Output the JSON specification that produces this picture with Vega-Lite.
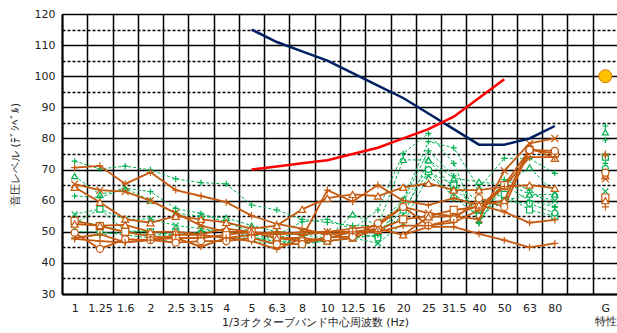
{
"$schema": "https://vega.github.io/schema/vega-lite/v6.json",
"width": 556, "height": 280,
"autosize": {"type": "none"},
"padding": {"left": 62, "top": 14, "right": 0, "bottom": 39},
"config": {"view": {"stroke": null}, "font": "DejaVu Sans"},
"datasets": {
"orange": [
{"s":"O1","f":"1","v":70.6},{"s":"O1","f":"1.25","v":71.2},{"s":"O1","f":"1.6","v":65.4},{"s":"O1","f":"2","v":69.1},{"s":"O1","f":"2.5","v":63.4},{"s":"O1","f":"3.15","v":61.5},{"s":"O1","f":"4","v":59.5},{"s":"O1","f":"5","v":55.2},{"s":"O1","f":"6.3","v":52.5},{"s":"O1","f":"8","v":51},{"s":"O1","f":"10","v":49},{"s":"O1","f":"12.5","v":50},{"s":"O1","f":"16","v":51},{"s":"O1","f":"20","v":49},{"s":"O1","f":"25","v":51.6},{"s":"O1","f":"31.5","v":51.6},{"s":"O1","f":"40","v":49.3},{"s":"O1","f":"50","v":47.3},{"s":"O1","f":"63","v":45},{"s":"O1","f":"80","v":46.3},{"s":"O1","f":"G","v":58},
{"s":"O2","f":"1","v":64.3},{"s":"O2","f":"1.25","v":59.5},{"s":"O2","f":"1.6","v":54.1},{"s":"O2","f":"2","v":52.9},{"s":"O2","f":"2.5","v":55},{"s":"O2","f":"3.15","v":54},{"s":"O2","f":"4","v":53},{"s":"O2","f":"5","v":51},{"s":"O2","f":"6.3","v":52},{"s":"O2","f":"8","v":57.2},{"s":"O2","f":"10","v":60.8},{"s":"O2","f":"12.5","v":62},{"s":"O2","f":"16","v":61.5},{"s":"O2","f":"20","v":64.3},{"s":"O2","f":"25","v":65.6},{"s":"O2","f":"31.5","v":63.4},{"s":"O2","f":"40","v":63.4},{"s":"O2","f":"50","v":64.5},{"s":"O2","f":"63","v":65},{"s":"O2","f":"80","v":64},{"s":"O2","f":"G","v":68},
{"s":"O3","f":"1","v":48},{"s":"O3","f":"1.25","v":49.2},{"s":"O3","f":"1.6","v":46.6},{"s":"O3","f":"2","v":47.5},{"s":"O3","f":"2.5","v":48},{"s":"O3","f":"3.15","v":45.2},{"s":"O3","f":"4","v":48},{"s":"O3","f":"5","v":47},{"s":"O3","f":"6.3","v":44.4},{"s":"O3","f":"8","v":48},{"s":"O3","f":"10","v":63.4},{"s":"O3","f":"12.5","v":59.7},{"s":"O3","f":"16","v":65},{"s":"O3","f":"20","v":60},{"s":"O3","f":"25","v":58.6},{"s":"O3","f":"31.5","v":60.8},{"s":"O3","f":"40","v":58.6},{"s":"O3","f":"50","v":56.4},{"s":"O3","f":"63","v":52.9},{"s":"O3","f":"80","v":53.8},{"s":"O3","f":"G","v":75},
{"s":"O4","f":"1","v":65.3},{"s":"O4","f":"1.25","v":63.4},{"s":"O4","f":"1.6","v":62.9},{"s":"O4","f":"2","v":60},{"s":"O4","f":"2.5","v":56},{"s":"O4","f":"3.15","v":52},{"s":"O4","f":"4","v":50},{"s":"O4","f":"5","v":50},{"s":"O4","f":"6.3","v":49},{"s":"O4","f":"8","v":50},{"s":"O4","f":"10","v":50},{"s":"O4","f":"12.5","v":51},{"s":"O4","f":"16","v":52},{"s":"O4","f":"20","v":58},{"s":"O4","f":"25","v":56},{"s":"O4","f":"31.5","v":55},{"s":"O4","f":"40","v":54},{"s":"O4","f":"50","v":69.6},{"s":"O4","f":"63","v":78.4},{"s":"O4","f":"80","v":80},{"s":"O4","f":"G","v":67},
{"s":"O5","f":"1","v":53.5},{"s":"O5","f":"1.25","v":51.8},{"s":"O5","f":"1.6","v":50},{"s":"O5","f":"2","v":48.5},{"s":"O5","f":"2.5","v":48},{"s":"O5","f":"3.15","v":48},{"s":"O5","f":"4","v":49},{"s":"O5","f":"5","v":50},{"s":"O5","f":"6.3","v":48},{"s":"O5","f":"8","v":47},{"s":"O5","f":"10","v":48},{"s":"O5","f":"12.5","v":50},{"s":"O5","f":"16","v":50.6},{"s":"O5","f":"20","v":54},{"s":"O5","f":"25","v":55},{"s":"O5","f":"31.5","v":57},{"s":"O5","f":"40","v":58},{"s":"O5","f":"50","v":65},{"s":"O5","f":"63","v":76.3},{"s":"O5","f":"80","v":75.2},{"s":"O5","f":"G","v":61},
{"s":"O6","f":"1","v":52.5},{"s":"O6","f":"1.25","v":52},{"s":"O6","f":"1.6","v":52.2},{"s":"O6","f":"2","v":50},{"s":"O6","f":"2.5","v":50},{"s":"O6","f":"3.15","v":49.2},{"s":"O6","f":"4","v":51},{"s":"O6","f":"5","v":50},{"s":"O6","f":"6.3","v":48},{"s":"O6","f":"8","v":48},{"s":"O6","f":"10","v":47},{"s":"O6","f":"12.5","v":48},{"s":"O6","f":"16","v":51},{"s":"O6","f":"20","v":49},{"s":"O6","f":"25","v":54.8},{"s":"O6","f":"31.5","v":55},{"s":"O6","f":"40","v":58.6},{"s":"O6","f":"50","v":60},{"s":"O6","f":"63","v":77},{"s":"O6","f":"80","v":73.6},{"s":"O6","f":"G","v":60},
{"s":"O7","f":"1","v":49.7},{"s":"O7","f":"1.25","v":44.5},{"s":"O7","f":"1.6","v":47.6},{"s":"O7","f":"2","v":47.3},{"s":"O7","f":"2.5","v":46.5},{"s":"O7","f":"3.15","v":47},{"s":"O7","f":"4","v":47},{"s":"O7","f":"5","v":48},{"s":"O7","f":"6.3","v":46},{"s":"O7","f":"8","v":46},{"s":"O7","f":"10","v":48.2},{"s":"O7","f":"12.5","v":48.4},{"s":"O7","f":"16","v":52.8},{"s":"O7","f":"20","v":58},{"s":"O7","f":"25","v":52},{"s":"O7","f":"31.5","v":54},{"s":"O7","f":"40","v":60.8},{"s":"O7","f":"50","v":58},{"s":"O7","f":"63","v":76.3},{"s":"O7","f":"80","v":76},{"s":"O7","f":"G","v":69},
{"s":"O8","f":"1","v":47.7},{"s":"O8","f":"1.25","v":47},{"s":"O8","f":"1.6","v":46.6},{"s":"O8","f":"2","v":47.3},{"s":"O8","f":"2.5","v":49},{"s":"O8","f":"3.15","v":49},{"s":"O8","f":"4","v":48},{"s":"O8","f":"5","v":49},{"s":"O8","f":"6.3","v":50},{"s":"O8","f":"8","v":49},{"s":"O8","f":"10","v":50},{"s":"O8","f":"12.5","v":50},{"s":"O8","f":"16","v":50},{"s":"O8","f":"20","v":52},{"s":"O8","f":"25","v":52},{"s":"O8","f":"31.5","v":53},{"s":"O8","f":"40","v":57},{"s":"O8","f":"50","v":64.5},{"s":"O8","f":"63","v":74},{"s":"O8","f":"80","v":74},{"s":"O8","f":"G","v":74.5}
],
"green": [
{"s":"G1","f":"1","v":72.7},{"s":"G1","f":"1.25","v":70.2},{"s":"G1","f":"1.6","v":71.1},{"s":"G1","f":"2","v":69.9},{"s":"G1","f":"2.5","v":67},{"s":"G1","f":"3.15","v":65.8},{"s":"G1","f":"4","v":65.4},{"s":"G1","f":"5","v":58.6},{"s":"G1","f":"6.3","v":57},{"s":"G1","f":"8","v":54},{"s":"G1","f":"10","v":53},{"s":"G1","f":"12.5","v":52},{"s":"G1","f":"16","v":52},{"s":"G1","f":"20","v":60.4},{"s":"G1","f":"25","v":79},{"s":"G1","f":"31.5","v":77},{"s":"G1","f":"40","v":64},{"s":"G1","f":"50","v":73.6},{"s":"G1","f":"63","v":73.6},{"s":"G1","f":"80","v":68.8},{"s":"G1","f":"G","v":84},
{"s":"G2","f":"1","v":67.9},{"s":"G2","f":"1.25","v":62},{"s":"G2","f":"1.6","v":64},{"s":"G2","f":"2","v":60},{"s":"G2","f":"2.5","v":56},{"s":"G2","f":"3.15","v":55},{"s":"G2","f":"4","v":54.5},{"s":"G2","f":"5","v":52},{"s":"G2","f":"6.3","v":50},{"s":"G2","f":"8","v":49},{"s":"G2","f":"10","v":48},{"s":"G2","f":"12.5","v":55.6},{"s":"G2","f":"16","v":52},{"s":"G2","f":"20","v":73.1},{"s":"G2","f":"25","v":73.1},{"s":"G2","f":"31.5","v":67.2},{"s":"G2","f":"40","v":66.1},{"s":"G2","f":"50","v":65},{"s":"G2","f":"63","v":70.7},{"s":"G2","f":"80","v":62.4},{"s":"G2","f":"G","v":82},
{"s":"G3","f":"1","v":61.5},{"s":"G3","f":"1.25","v":61},{"s":"G3","f":"1.6","v":64},{"s":"G3","f":"2","v":62.9},{"s":"G3","f":"2.5","v":57.5},{"s":"G3","f":"3.15","v":55.9},{"s":"G3","f":"4","v":53},{"s":"G3","f":"5","v":50},{"s":"G3","f":"6.3","v":49},{"s":"G3","f":"8","v":53.2},{"s":"G3","f":"10","v":54},{"s":"G3","f":"12.5","v":50.8},{"s":"G3","f":"16","v":57},{"s":"G3","f":"20","v":75.2},{"s":"G3","f":"25","v":81.6},{"s":"G3","f":"31.5","v":72},{"s":"G3","f":"40","v":52.7},{"s":"G3","f":"50","v":66.8},{"s":"G3","f":"63","v":63.4},{"s":"G3","f":"80","v":57.9},{"s":"G3","f":"G","v":72},
{"s":"G4","f":"1","v":55.6},{"s":"G4","f":"1.25","v":57.3},{"s":"G4","f":"1.6","v":54},{"s":"G4","f":"2","v":54.1},{"s":"G4","f":"2.5","v":52},{"s":"G4","f":"3.15","v":51},{"s":"G4","f":"4","v":50},{"s":"G4","f":"5","v":49},{"s":"G4","f":"6.3","v":48},{"s":"G4","f":"8","v":47},{"s":"G4","f":"10","v":46.8},{"s":"G4","f":"12.5","v":48},{"s":"G4","f":"16","v":46.3},{"s":"G4","f":"20","v":52.7},{"s":"G4","f":"25","v":68},{"s":"G4","f":"31.5","v":62},{"s":"G4","f":"40","v":57},{"s":"G4","f":"50","v":60},{"s":"G4","f":"63","v":62},{"s":"G4","f":"80","v":60},{"s":"G4","f":"G","v":63},
{"s":"G5","f":"1","v":52.7},{"s":"G5","f":"1.25","v":57.3},{"s":"G5","f":"1.6","v":50.3},{"s":"G5","f":"2","v":50},{"s":"G5","f":"2.5","v":50},{"s":"G5","f":"3.15","v":49},{"s":"G5","f":"4","v":48},{"s":"G5","f":"5","v":48},{"s":"G5","f":"6.3","v":47},{"s":"G5","f":"8","v":46},{"s":"G5","f":"10","v":47},{"s":"G5","f":"12.5","v":48},{"s":"G5","f":"16","v":49},{"s":"G5","f":"20","v":57},{"s":"G5","f":"25","v":69.3},{"s":"G5","f":"31.5","v":65},{"s":"G5","f":"40","v":60},{"s":"G5","f":"50","v":62},{"s":"G5","f":"63","v":57},{"s":"G5","f":"80","v":55},{"s":"G5","f":"G","v":74},
{"s":"G6","f":"1","v":53.5},{"s":"G6","f":"1.25","v":52.2},{"s":"G6","f":"1.6","v":50},{"s":"G6","f":"2","v":49},{"s":"G6","f":"2.5","v":49},{"s":"G6","f":"3.15","v":50},{"s":"G6","f":"4","v":51},{"s":"G6","f":"5","v":48},{"s":"G6","f":"6.3","v":48},{"s":"G6","f":"8","v":50},{"s":"G6","f":"10","v":49},{"s":"G6","f":"12.5","v":50},{"s":"G6","f":"16","v":50},{"s":"G6","f":"20","v":55},{"s":"G6","f":"25","v":73},{"s":"G6","f":"31.5","v":64},{"s":"G6","f":"40","v":57},{"s":"G6","f":"50","v":66},{"s":"G6","f":"63","v":62},{"s":"G6","f":"80","v":62},{"s":"G6","f":"G","v":70},
{"s":"G7","f":"1","v":50},{"s":"G7","f":"1.25","v":50},{"s":"G7","f":"1.6","v":49},{"s":"G7","f":"2","v":48},{"s":"G7","f":"2.5","v":46.5},{"s":"G7","f":"3.15","v":47},{"s":"G7","f":"4","v":47},{"s":"G7","f":"5","v":48},{"s":"G7","f":"6.3","v":47},{"s":"G7","f":"8","v":47},{"s":"G7","f":"10","v":48},{"s":"G7","f":"12.5","v":50},{"s":"G7","f":"16","v":48},{"s":"G7","f":"20","v":60},{"s":"G7","f":"25","v":70},{"s":"G7","f":"31.5","v":61},{"s":"G7","f":"40","v":55},{"s":"G7","f":"50","v":60},{"s":"G7","f":"63","v":59.1},{"s":"G7","f":"80","v":56},{"s":"G7","f":"G","v":70.4},
{"s":"G8","f":"1","v":48},{"s":"G8","f":"1.25","v":49},{"s":"G8","f":"1.6","v":50},{"s":"G8","f":"2","v":50},{"s":"G8","f":"2.5","v":49},{"s":"G8","f":"3.15","v":49},{"s":"G8","f":"4","v":48},{"s":"G8","f":"5","v":47},{"s":"G8","f":"6.3","v":46},{"s":"G8","f":"8","v":48},{"s":"G8","f":"10","v":47},{"s":"G8","f":"12.5","v":48},{"s":"G8","f":"16","v":49},{"s":"G8","f":"20","v":60},{"s":"G8","f":"25","v":76},{"s":"G8","f":"31.5","v":68},{"s":"G8","f":"40","v":53},{"s":"G8","f":"50","v":65},{"s":"G8","f":"63","v":60},{"s":"G8","f":"80","v":58},{"s":"G8","f":"G","v":79.5}
],
"ref": [
{"s":"hear","f":"5","v":115},{"s":"hear","f":"6.3","v":111},{"s":"hear","f":"8","v":108},{"s":"hear","f":"10","v":105},{"s":"hear","f":"12.5","v":101},{"s":"hear","f":"16","v":97},{"s":"hear","f":"20","v":93},{"s":"hear","f":"25","v":88},{"s":"hear","f":"31.5","v":83},{"s":"hear","f":"40","v":78},{"s":"hear","f":"50","v":78},{"s":"hear","f":"63","v":80},{"s":"hear","f":"80","v":84},
{"s":"phys","f":"5","v":70},{"s":"phys","f":"6.3","v":71},{"s":"phys","f":"8","v":72},{"s":"phys","f":"10","v":73},{"s":"phys","f":"12.5","v":75},{"s":"phys","f":"16","v":77},{"s":"phys","f":"20","v":80},{"s":"phys","f":"25","v":83},{"s":"phys","f":"31.5","v":87},{"s":"phys","f":"40","v":93},{"s":"phys","f":"50","v":99}
],
"gref": [{"s":"G特性","f":"G","v":100}]
},
"encoding": {
"x": {"field": "f", "type": "ordinal",
 "scale": {"type": "band", "domain": ["1","1.25","1.6","2","2.5","3.15","4","5","6.3","8","10","12.5","16","20","25","31.5","40","50","63","80"," ","G"], "paddingInner": 0, "paddingOuter": 0},
 "axis": {"title": "1/3オクターブバンド中心周波数 (Hz)", "tickBand": "extent", "grid": true, "gridColor": "#000", "gridWidth": 1.5, "gridOpacity": 1, "ticks": false, "tickSize": 0, "labelPadding": 8, "labelAngle": 0, "labelFontSize": 11, "labelColor": "#222", "labelFont": "DejaVu Sans", "domainColor": "#000", "domainWidth": 2, "titleFontSize": 11, "titleFontWeight": "normal", "titleFont": "DejaVu Sans", "titleColor": "#222", "titleX": 253, "titleY": 28, "titleBaseline": "middle", "labelExpr": "datum.value == 'G' ? ['G','特性'] : datum.label"}},
"y": {"field": "v", "type": "quantitative",
 "scale": {"domain": [30, 120], "nice": false, "zero": false},
 "axis": {"title": "音圧レベル (ﾃﾞｼﾍﾞﾙ)", "values": [30,35,40,45,50,55,60,65,70,75,80,85,90,95,100,105,110,115,120], "labelExpr": "datum.value % 10 == 0 ? datum.label : ''", "grid": true, "gridColor": "#000", "gridOpacity": 1, "gridWidth": {"condition": {"test": "datum.value % 10 != 0", "value": 1.3}, "value": 1.6}, "gridDash": {"condition": {"test": "datum.value % 10 != 0", "value": [3, 2]}, "value": []}, "ticks": false, "tickSize": 0, "labelPadding": 7, "labelFontSize": 11, "labelColor": "#222", "labelFont": "DejaVu Sans", "domainColor": "#000", "domainWidth": 2, "titleFontSize": 11, "titleFontWeight": "normal", "titleFont": "DejaVu Sans", "titleColor": "#222", "titlePadding": 14}}
},
"layer": [
{"data": {"name": "green"}, "transform": [{"filter": "datum.f != 'G'"}],
 "mark": {"type": "line", "strokeWidth": 1, "strokeDash": [3, 2], "color": "#00B050"},
 "encoding": {"detail": {"field": "s"}}},
{"data": {"name": "green"},
 "mark": {"type": "point", "filled": false, "fill": "white", "fillOpacity": 1, "strokeWidth": 1.2, "size": 36, "color": "#00B050", "opacity": 1},
 "encoding": {"shape": {"field": "s", "scale": {"domain": ["G1","G2","G3","G4","G5","G6","G7","G8"], "range": ["M-1,0L1,0M0,-1L0,1","triangle-up","M-1,0L1,0M0,-1L0,1","M-1,-1L1,1M-1,1L1,-1","square","triangle-up","circle","M-1,0L1,0M0,-1L0,1"]}, "legend": null}}},
{"data": {"name": "orange"}, "transform": [{"filter": "datum.f != 'G'"}],
 "mark": {"type": "line", "strokeWidth": 1.8, "color": "#C55A11"},
 "encoding": {"detail": {"field": "s"}}},
{"data": {"name": "orange"},
 "mark": {"type": "point", "filled": false, "fill": "white", "fillOpacity": 1, "strokeWidth": 1.2, "size": 50, "color": "#C55A11", "opacity": 1},
 "encoding": {"shape": {"field": "s", "scale": {"domain": ["O1","O2","O3","O4","O5","O6","O7","O8"], "range": ["square","circle","M-1,-1L1,1M-1,1L1,-1","circle","triangle-up","square","circle","M-1,-1L1,1M-1,1L1,-1"]}, "legend": null}}},
{"data": {"name": "ref"},
 "mark": {"type": "line", "strokeWidth": 2.5},
 "encoding": {"color": {"field": "s", "scale": {"domain": ["hear", "phys"], "range": ["#002060", "#FF0000"]}, "legend": null}}},
{"data": {"name": "gref"},
 "mark": {"type": "point", "filled": true, "shape": "circle", "size": 170, "fill": "#FFC000", "stroke": "#E07800", "strokeWidth": 1, "opacity": 1},
 "encoding": {}}
]
}
